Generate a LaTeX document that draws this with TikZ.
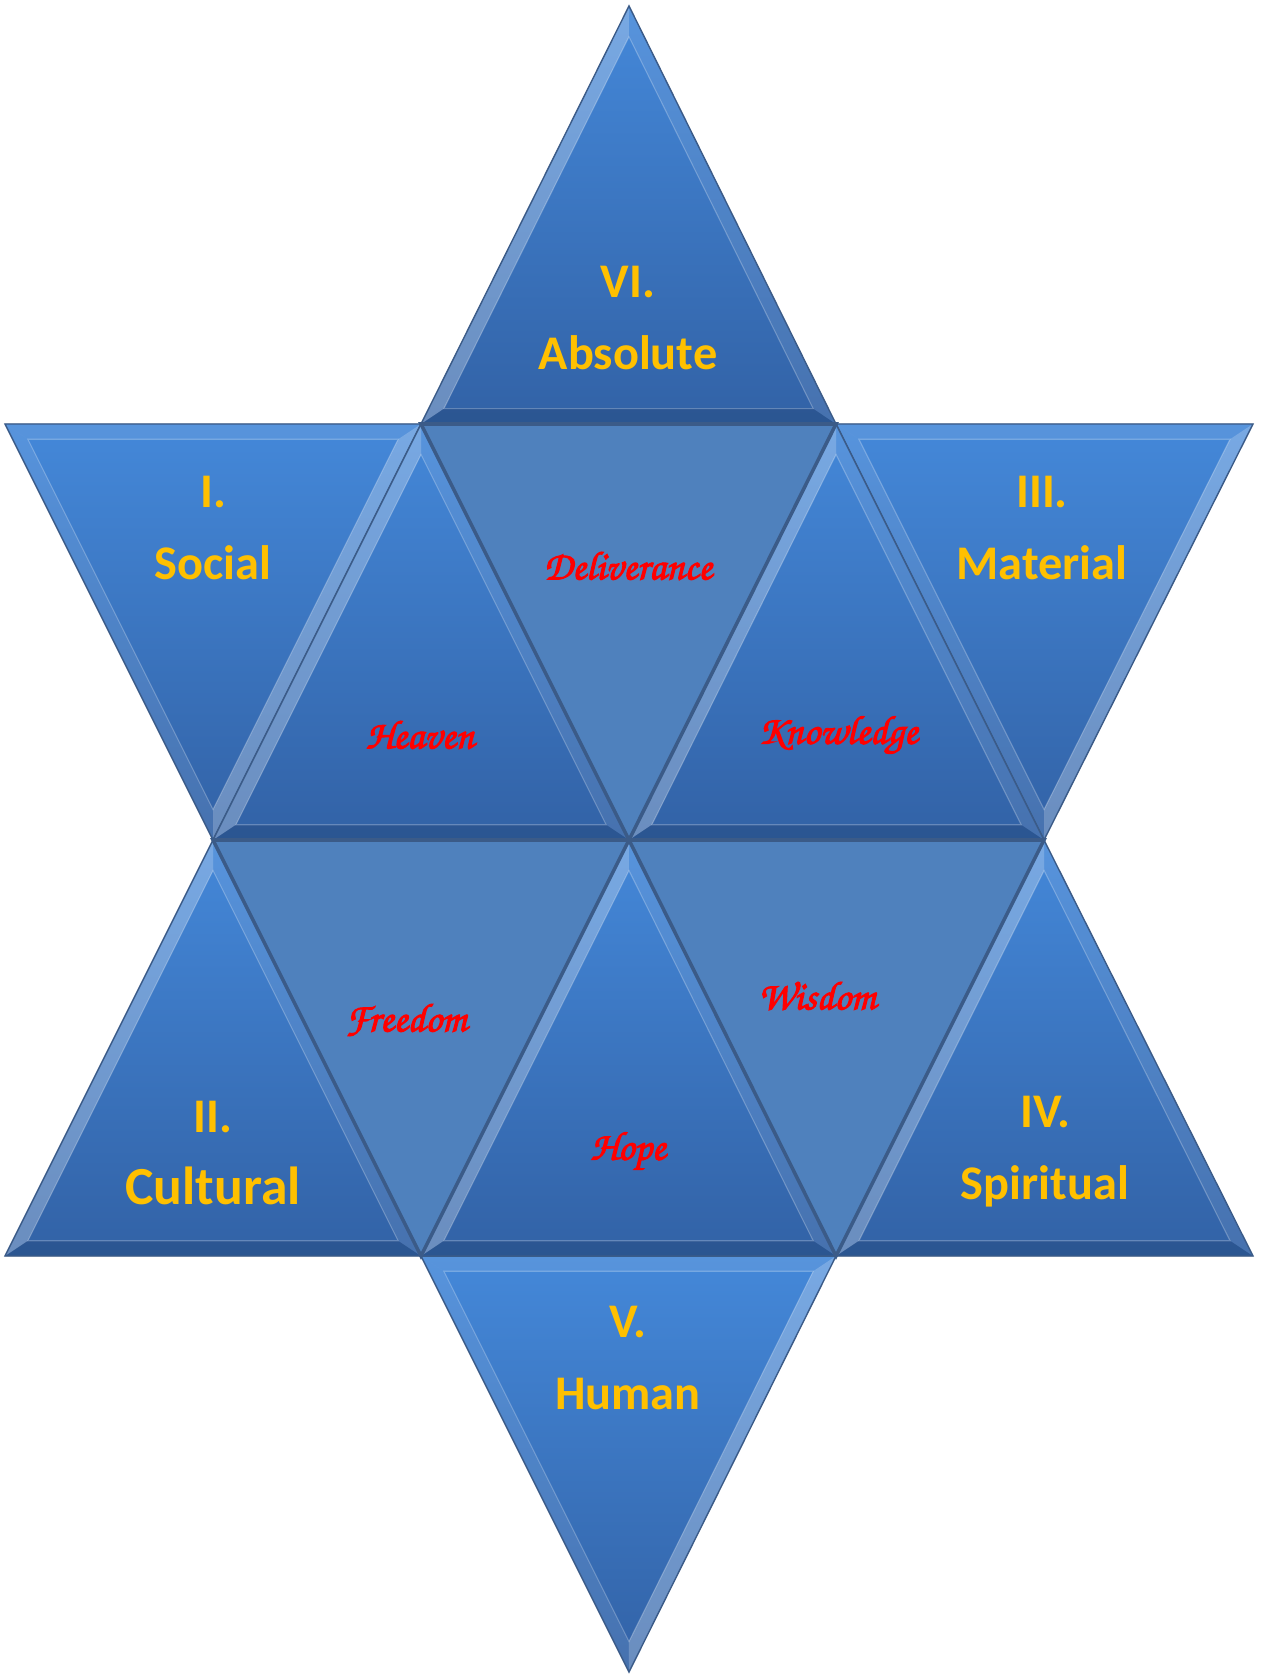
\documentclass[tikz,border=0pt]{standalone}
\usepackage{fontspec}
\setmainfont{Carlito}
\newfontfamily\brushfont[FakeBold=2.6]{texgyrechorus-mediumitalic.otf}
\usetikzlibrary{calc}
\definecolor{startop}{HTML}{4488D9}
\definecolor{starbot}{HTML}{3262A6}
\definecolor{innerflat}{HTML}{4F81BD}
\definecolor{edgedark}{HTML}{3B5B88}
\definecolor{numgold}{HTML}{FFC000}
\definecolor{wordred}{HTML}{FF0000}

\tikzset{
  pointfill/.style={top color=startop,bottom color=starbot},
  flatfill/.style={fill=innerflat,draw=edgedark,line width=2pt,line join=miter},
  bevhi/.style={fill=white,fill opacity=0.28},
  bevmid/.style={fill=white,fill opacity=0.10},
  bevlo/.style={fill=black,fill opacity=0.12},
  numlabel/.style={text=numgold,align=center,font=\fontsize{27.5}{41}\selectfont\bfseries},
  wordlabel/.style={text=wordred,font=\fontsize{23}{28}\selectfont\brushfont}
}

% bevelled triangle: apex, base corners, then styles of the three rims
\newcommand\bevtri[6]{%
  \fill[pointfill] (#1) -- (#2) -- (#3) -- cycle;
  \coordinate (tg) at ($(#1)!0.5!(#2)!1/3!(#3)$);
  \coordinate (ia) at ($(tg)!0.89!(#1)$);
  \coordinate (ib) at ($(tg)!0.89!(#2)$);
  \coordinate (ic) at ($(tg)!0.89!(#3)$);
  \fill[#4] (#1) -- (#2) -- (ib) -- (ia) -- cycle;
  \fill[#5] (#1) -- (#3) -- (ic) -- (ia) -- cycle;
  \fill[#6] (#2) -- (#3) -- (ic) -- (ib) -- cycle;
  \draw[white,opacity=0.25,line width=0.6pt] (ia) -- (ib) -- (ic) -- cycle;
  \draw[edgedark,line width=0.8pt] (#1) -- (#2) -- (#3) -- cycle;
}

\begin{document}
\begin{tikzpicture}[x=0.02cm,y=-0.02cm]
\useasboundingbox (0,0) rectangle (1263,1675);
% corner points of the star
\coordinate (top) at (629,6);
\coordinate (tl) at (5,424);   \coordinate (tb) at (421,424);
\coordinate (td) at (836,424); \coordinate (tr) at (1253,424);
\coordinate (ml) at (213,840); \coordinate (mc) at (629,840);
\coordinate (mr) at (1044,840);
\coordinate (bl) at (5,1256);  \coordinate (bb) at (421,1256);
\coordinate (bd) at (836,1256);\coordinate (br) at (1253,1256);
\coordinate (bot) at (629,1672);

% outer points
\bevtri{top}{tb}{td}{bevhi}{bevmid}{bevlo}
\bevtri{ml}{bl}{bb}{bevhi}{bevmid}{bevlo}
\bevtri{mr}{bd}{br}{bevhi}{bevmid}{bevlo}
\bevtri{ml}{tl}{tb}{bevmid}{bevhi}{bevmid}
\bevtri{mr}{td}{tr}{bevmid}{bevhi}{bevmid}
\bevtri{bot}{bb}{bd}{bevmid}{bevhi}{bevmid}
% inner upright triangles
\bevtri{tb}{ml}{mc}{bevhi}{bevmid}{bevlo}
\bevtri{td}{mc}{mr}{bevhi}{bevmid}{bevlo}
\bevtri{mc}{bb}{bd}{bevhi}{bevmid}{bevlo}
% inner flat triangles
\draw[flatfill] (tb) -- (td) -- (mc) -- cycle;
\draw[flatfill] (ml) -- (mc) -- (bb) -- cycle;
\draw[flatfill] (mc) -- (mr) -- (bd) -- cycle;

% labels
\node[numlabel] (absolute) at (628,318) {VI.\\Absolute};
\node[numlabel] (social) at (213,528) {I.\\Social};
\node[numlabel] (material) at (1042,528) {III.\\Material};
\node[numlabel] (cultural) at (213,1153) {II.\\{\fontsize{30.5}{41}\selectfont Cultural}};
\node[numlabel] (spiritual) at (1045,1152) {IV.\\Spiritual};
\node[numlabel] (human) at (628,1358) {V.\\Human};

\node[wordlabel] (deliverance) at (628,566) {Deliverance};
\node[wordlabel] (heaven) at (420,735) {Heaven};
\node[wordlabel] (knowledge) at (838,735) {Knowledge};
\node[wordlabel] (freedom) at (406,1020) {Freedom};
\node[wordlabel] (wisdom) at (817,996) {Wisdom};
\node[wordlabel] (hope) at (628,1151) {Hope};
\end{tikzpicture}
\end{document}
